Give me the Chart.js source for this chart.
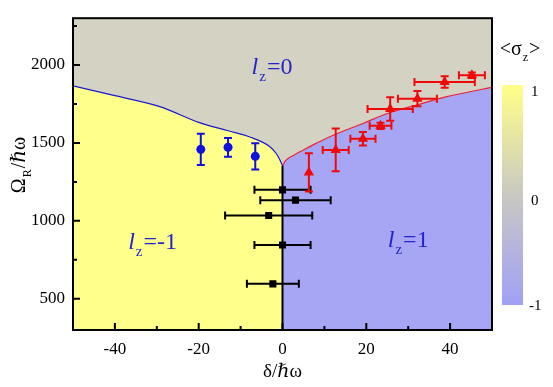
<!DOCTYPE html>
<html>
<head>
<meta charset="utf-8">
<script src="https://cdn.jsdelivr.net/npm/chart.js@4.4.1/dist/chart.umd.min.js"></script>
<style>
  html, body { margin: 0; padding: 0; background: #fff; }
  #wrap { width: 553px; height: 387px; }
</style>
</head>
<body>
<div id="wrap"><canvas id="chart" width="553" height="387"></canvas></div>
<script>
// phase boundaries
const leftBoundX = [-50, -40, -29.3, -19.8, -13, -7.8, -3, -1.5, -0.7, 0];
const leftBoundY = [1866, 1803, 1733, 1630, 1578, 1538, 1476, 1432, 1395, 1353];
const rightBoundX = [0, 0.8, 2.5, 5, 8, 11.3, 19.2, 25.7, 32.2, 38.7, 50];
const rightBoundY = [1353, 1388, 1418, 1455, 1497, 1540, 1625, 1695, 1745, 1794, 1856];
const zeroLineX = [0, 0];
const zeroLineY = [300, 1353];

// black squares
const sqX = [0, 3.1, -3.3, 0, -2.3];
const sqY = [1199, 1133, 1034, 845, 596];
const sqErrX = [6.7, 8.4, 10.4, 6.7, 6.2];

// blue circles
const circX = [-19.5, -13, -6.5];
const circY = [1459, 1472, 1414];
const circErrY = [100, 60, 84];

// red triangles
const triX = [6.3, 12.7, 19.2, 23.4, 25.7, 32.2, 38.7, 45.2];
const triY = [1311, 1455, 1527, 1610, 1718, 1784, 1891, 1934];
const triErrX = [0, 3.1, 3.0, 2.6, 5.4, 4.65, 7.2, 3.1];
const triErrY = [123, 137, 43, 20, 75, 49, 37, 17];

// axes
const xMin = -50, xMax = 50, yMin = 300, yMax = 2300;
const xStep = 10, yStep = 250;
const xLabelTicks = [-40, -20, 0, 20, 40];
const yLabelTicks = [500, 1000, 1500, 2000];
const cbarTicks = ['1', '0', '-1'];

const YELLOW = '#ffff8c';
const BLUE = '#a6a6f5';
const GRAY = '#d3d2c3';
const SERIF = '"Liberation Serif", "DejaVu Serif", serif';

const pts = (xs, ys) => xs.map((x, i) => ({ x: x, y: ys[i] }));

// gray background of the l_z=0 region
const bgPlugin = {
    id: 'bg',
    beforeDatasetsDraw(chart) {
        const a = chart.chartArea, ctx = chart.ctx;
        ctx.save();
        ctx.fillStyle = GRAY;
        ctx.fillRect(a.left, a.top, a.right - a.left, a.bottom - a.top);
        ctx.restore();
    }
};

// error bars, drawn right before the markers of each dataset
const errPlugin = {
    id: 'errbars',
    beforeDatasetDraw(chart, args) {
        const ds = chart.data.datasets[args.index];
        if (!ds.errX && !ds.errY) return;
        const xs = chart.scales.x, ys = chart.scales.y, ctx = chart.ctx;
        const cap = 4;
        ctx.save();
        ctx.strokeStyle = ds.borderColor;
        ctx.lineWidth = 2;
        ds.data.forEach((p, i) => {
            const px = xs.getPixelForValue(p.x), py = ys.getPixelForValue(p.y);
            ctx.beginPath();
            const ex = ds.errX ? ds.errX[i] : 0;
            if (ex) {
                const l = xs.getPixelForValue(p.x - ex), r = xs.getPixelForValue(p.x + ex);
                ctx.moveTo(l, py); ctx.lineTo(r, py);
                ctx.moveTo(l, py - cap); ctx.lineTo(l, py + cap);
                ctx.moveTo(r, py - cap); ctx.lineTo(r, py + cap);
            }
            const ey = ds.errY ? ds.errY[i] : 0;
            if (ey) {
                const t = ys.getPixelForValue(p.y + ey), b = ys.getPixelForValue(p.y - ey);
                ctx.moveTo(px, t); ctx.lineTo(px, b);
                ctx.moveTo(px - cap, t); ctx.lineTo(px + cap, t);
                ctx.moveTo(px - cap, b); ctx.lineTo(px + cap, b);
            }
            ctx.stroke();
        });
        ctx.restore();
    }
};

// text with a subscript: main + sub + rest
function drawSub(ctx, x, y, main, sub, rest, size, italicMain) {
    const fMain = (italicMain ? 'italic ' : '') + size + 'px ' + SERIF;
    const fSub = Math.round(size * 0.62) + 'px ' + SERIF;
    const fRest = size + 'px ' + SERIF;
    ctx.font = fMain; const w1 = ctx.measureText(main).width;
    ctx.font = fSub; const w2 = ctx.measureText(sub).width;
    ctx.font = fRest; const w3 = ctx.measureText(rest).width;
    const sx = x - (w1 + w2 + w3 + 2) / 2;
    ctx.textAlign = 'left';
    ctx.textBaseline = 'alphabetic';
    ctx.font = fMain; ctx.fillText(main, sx, y);
    ctx.font = fSub; ctx.fillText(sub, sx + w1 + 1, y + size * 0.28);
    ctx.font = fRest; ctx.fillText(rest, sx + w1 + w2 + 2, y);
}

// frame, inward ticks, region labels, axis titles, colour bar
const decoPlugin = {
    id: 'deco',
    afterDraw(chart) {
        const a = chart.chartArea, ctx = chart.ctx;
        const xs = chart.scales.x, ys = chart.scales.y;
        ctx.save();
        ctx.strokeStyle = '#000';
        ctx.lineWidth = 2;
        ctx.beginPath();
        for (let v = xMin + xStep; v < xMax; v += xStep) {
            const px = xs.getPixelForValue(v);
            const len = v % 20 === 0 ? 7 : 4;
            ctx.moveTo(px, a.bottom); ctx.lineTo(px, a.bottom - len);
        }
        for (let v = Math.ceil(yMin / yStep) * yStep; v < yMax; v += yStep) {
            const py = ys.getPixelForValue(v);
            const len = v % 500 === 0 ? 7 : 4;
            ctx.moveTo(a.left, py); ctx.lineTo(a.left + len, py);
        }
        ctx.stroke();
        ctx.strokeRect(a.left, a.top, a.right - a.left, a.bottom - a.top);

        // region labels
        ctx.fillStyle = '#2424cc';
        drawSub(ctx, xs.getPixelForValue(-2.5), ys.getPixelForValue(1940), 'l', 'z', '=0', 24, true);
        drawSub(ctx, xs.getPixelForValue(-31), ys.getPixelForValue(818), 'l', 'z', '=-1', 24, true);
        drawSub(ctx, xs.getPixelForValue(30), ys.getPixelForValue(830), 'l', 'z', '=1', 24, true);

        // axis titles
        ctx.fillStyle = '#000';
        ctx.font = '19px ' + SERIF;
        ctx.textAlign = 'center';
        ctx.textBaseline = 'alphabetic';
        ctx.fillText('\u03b4/\u210f\u03c9', (a.left + a.right) / 2, 377);
        ctx.save();
        ctx.translate(25, 165);
        ctx.rotate(-Math.PI / 2);
        drawSub(ctx, 0, 0, '\u03a9', 'R', '/\u210f\u03c9', 20, false);
        ctx.restore();

        // colour bar
        const cx = 502, cw = 21, ct = 85, cb = 305;
        const g = ctx.createLinearGradient(0, ct, 0, cb);
        g.addColorStop(0, '#ffff88');
        g.addColorStop(0.5, '#c9c8c2');
        g.addColorStop(1, '#a0a0f8');
        ctx.fillStyle = g;
        ctx.fillRect(cx, ct, cw, cb - ct);
        ctx.fillStyle = '#000';
        ctx.font = '15px ' + SERIF;
        ctx.textAlign = 'left';
        ctx.textBaseline = 'middle';
        ctx.fillText(cbarTicks[0], 531, 92);
        ctx.fillText(cbarTicks[1], 531, 201);
        ctx.fillText(cbarTicks[2], 529, 306);
        drawSub(ctx, 520, 55, '<\u03c3', 'z', '>', 20, false);
        ctx.restore();
    }
};

new Chart(document.getElementById('chart'), {
    type: 'scatter',
    data: {
        datasets: [
            {
                data: pts(leftBoundX, leftBoundY), showLine: true, fill: 'start', order: 5,
                backgroundColor: YELLOW, borderColor: '#1a1acc', borderWidth: 1.2,
                pointRadius: 0, cubicInterpolationMode: 'monotone'
            },
            {
                data: pts(rightBoundX, rightBoundY), showLine: true, fill: 'start', order: 5,
                backgroundColor: BLUE, borderColor: '#ee2233', borderWidth: 1.2,
                pointRadius: 0, cubicInterpolationMode: 'monotone'
            },
            {
                data: pts(zeroLineX, zeroLineY), showLine: true, order: 4,
                borderColor: '#000', borderWidth: 2, pointRadius: 0
            },
            {
                data: pts(sqX, sqY), errX: sqErrX, pointStyle: 'rect', pointRadius: 5, order: 3,
                backgroundColor: '#000', borderColor: '#000', borderWidth: 0
            },
            {
                data: pts(circX, circY), errY: circErrY, pointStyle: 'circle', pointRadius: 4.5, order: 2,
                backgroundColor: '#1010e0', borderColor: '#1010e0', borderWidth: 0
            },
            {
                data: pts(triX, triY), errX: triErrX, errY: triErrY, pointStyle: 'triangle', pointRadius: 6, order: 1,
                backgroundColor: '#ee0a0a', borderColor: '#ee0a0a', borderWidth: 0
            }
        ]
    },
    options: {
        responsive: false,
        animation: false,
        layout: { padding: { top: 5, right: 61, left: 0, bottom: 0 } },
        plugins: { legend: { display: false }, tooltip: { enabled: false } },
        scales: {
            x: {
                type: 'linear', min: xMin, max: xMax,
                afterBuildTicks: s => { s.ticks = xLabelTicks.map(v => ({ value: v })); },
                afterFit: s => { s.height = 57; },
                grid: { display: false, drawTicks: false },
                border: { display: false },
                ticks: {
                    padding: 9, color: '#000', maxRotation: 0, autoSkip: false,
                    font: { family: SERIF, size: 17 },
                    callback: v => String(v)
                }
            },
            y: {
                type: 'linear', min: yMin, max: yMax,
                afterBuildTicks: s => { s.ticks = yLabelTicks.map(v => ({ value: v })); },
                afterFit: s => { s.width = 73; },
                grid: { display: false, drawTicks: false },
                border: { display: false },
                ticks: {
                    padding: 8, color: '#000', autoSkip: false,
                    font: { family: SERIF, size: 17 },
                    callback: v => String(v)
                }
            }
        }
    },
    plugins: [bgPlugin, errPlugin, decoPlugin]
});
</script>
</body>
</html>
